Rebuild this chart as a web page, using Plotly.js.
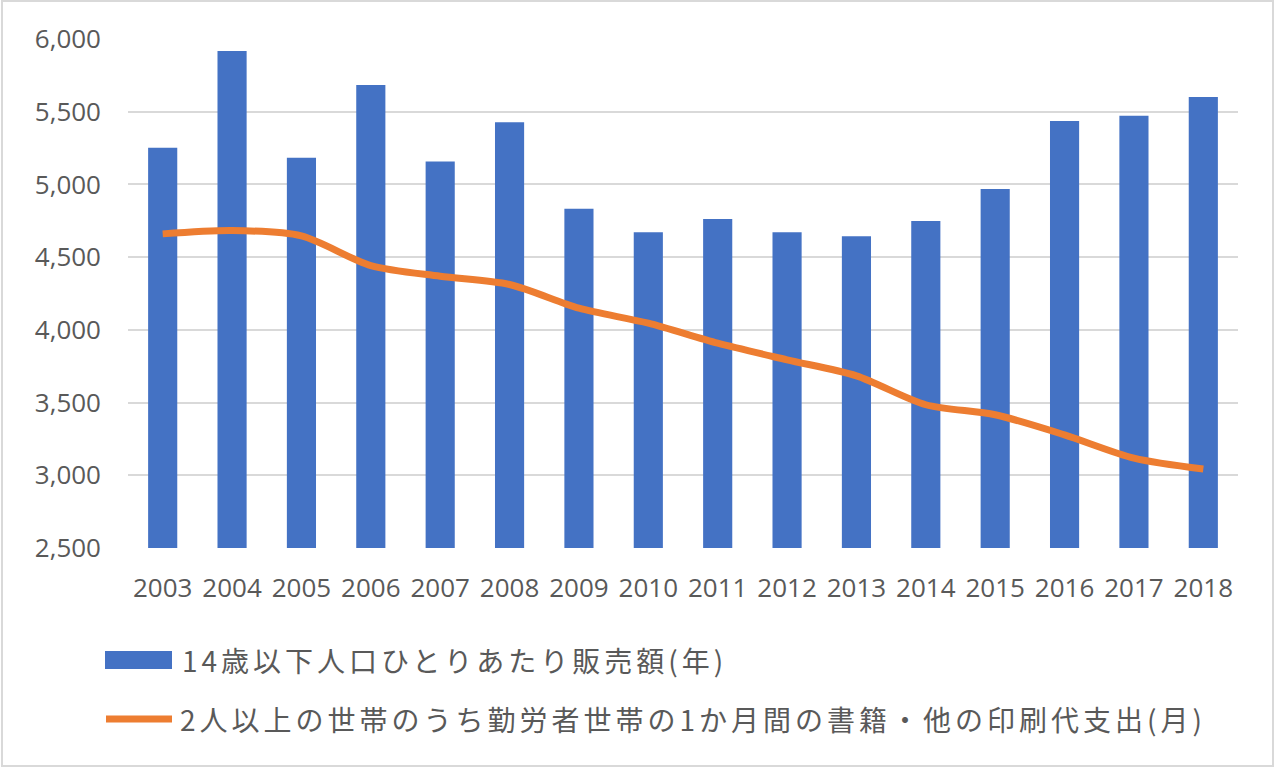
<!DOCTYPE html>
<html>
<head>
<meta charset="utf-8">
<script src="https://cdn.plot.ly/plotly-3.0.1.min.js"></script>
<style>
  html, body { margin: 0; padding: 0; background: #ffffff; }
  #chart { position: absolute; left: 0; top: 0; width: 1280px; height: 769px; }
  #frame { position: absolute; left: 1px; top: 0px; width: 1269px; height: 763px;
           border: 2px solid #d9d9d9; pointer-events: none; }
  .annotation-text { letter-spacing: 4px; }
</style>
</head>
<body>
<div id="chart"></div>
<div id="frame"></div>
<script>
// ---- data ----
const years = ["2003","2004","2005","2006","2007","2008","2009","2010",
               "2011","2012","2013","2014","2015","2016","2017","2018"];
const salesPerChild = [5253, 5918, 5184, 5684, 5157, 5427, 4832, 4671,
                       4763, 4671, 4644, 4749, 4969, 5436, 5473, 5601];
const bookSpending = [4660, 4683, 4646, 4442, 4369, 4312, 4149, 4046,
                      3908, 3794, 3684, 3485, 3416, 3278, 3118, 3043];
const barName = "14歳以下人口ひとりあたり販売額(年)";
const lineName = "2人以上の世帯のうち勤労者世帯の1か月間の書籍・他の印刷代支出(月)";
const yTicks = [2500, 3000, 3500, 4000, 4500, 5000, 5500, 6000];

// ---- geometry helpers (pixel -> paper) ----
const L = 128, R = 1238, T = 39, B = 548;
const px = x => (x - L) / (R - L);
const py = y => (B - y) / (B - T);

const blue = "#4472C4", orange = "#ED7D31", grey = "#595959";

const traces = [
  { type: "bar", x: years, y: salesPerChild, name: barName,
    marker: { color: blue }, showlegend: false, hoverinfo: "x+y" },
  { type: "scatter", mode: "lines", x: years, y: bookSpending, name: lineName,
    line: { color: orange, width: 7, shape: "spline", smoothing: 0.8 },
    showlegend: false, hoverinfo: "x+y" }
];

const layout = {
  width: 1280, height: 769,
  margin: { l: L, r: 1280 - R, t: T, b: 769 - B },
  paper_bgcolor: "#ffffff", plot_bgcolor: "#ffffff",
  bargap: 0.58,
  font: { family: "Open Sans, Noto Sans CJK JP, sans-serif", color: grey },
  xaxis: {
    type: "category", showgrid: false, zeroline: false,
    showline: false, ticks: "",
    tickfont: { size: 26, color: grey, family: "Open Sans, sans-serif" },
    ticklabelstandoff: 22
  },
  yaxis: {
    range: [2500, 6000], tickvals: yTicks,
    ticktext: yTicks.map(v => v.toLocaleString("en-US")),
    showgrid: true, gridcolor: "#d9d9d9", gridwidth: 2,
    zeroline: false, showline: false, ticks: "",
    tickfont: { size: 26, color: grey, family: "Open Sans, sans-serif" },
    ticklabelstandoff: 26
  },
  showlegend: false,
  shapes: [
    { type: "rect", xref: "paper", yref: "paper",
      x0: px(105), x1: px(172), y0: py(669), y1: py(651),
      fillcolor: blue, line: { width: 0 } },
    { type: "line", xref: "paper", yref: "paper",
      x0: px(106), x1: px(172), y0: py(719), y1: py(719),
      line: { color: orange, width: 7 } }
  ],
  annotations: [
    { xref: "paper", yref: "paper", x: px(180), y: py(660),
      xanchor: "left", yanchor: "middle", showarrow: false, text: barName,
      font: { size: 28, color: grey, family: "Noto Sans CJK JP, sans-serif" } },
    { xref: "paper", yref: "paper", x: px(178), y: py(719),
      xanchor: "left", yanchor: "middle", showarrow: false, text: lineName,
      font: { size: 28, color: grey, family: "Noto Sans CJK JP, sans-serif" } }
  ]
};

Plotly.newPlot("chart", traces, layout, { displayModeBar: false, staticPlot: true });
</script>
</body>
</html>
